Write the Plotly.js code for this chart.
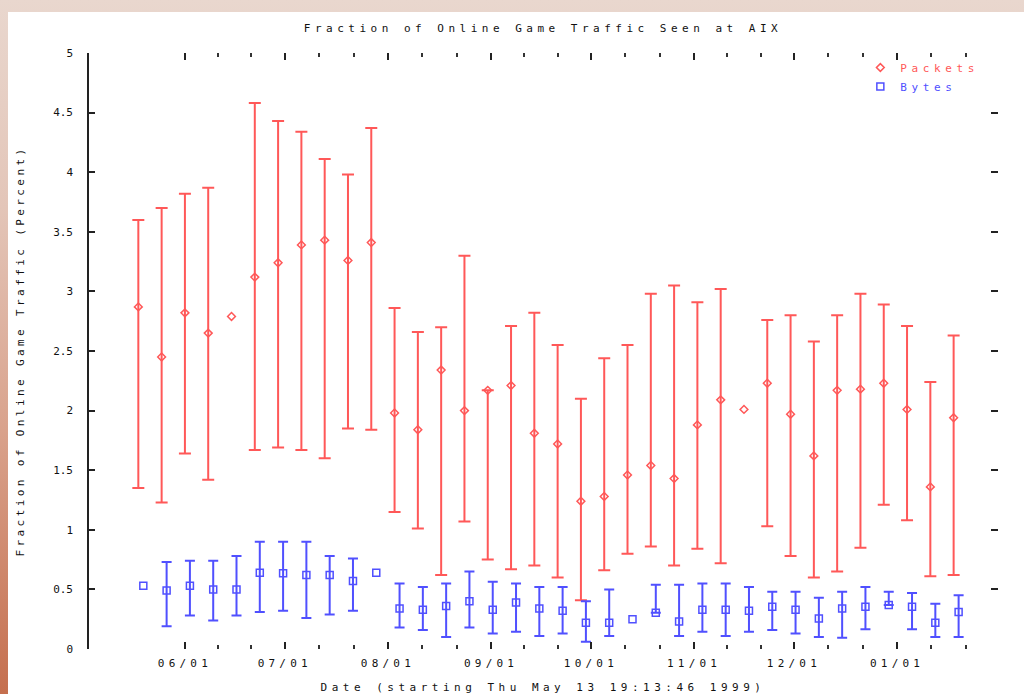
<!DOCTYPE html>
<html>
<head>
<meta charset="utf-8">
<script src="https://cdn.plot.ly/plotly-3.0.1.min.js"></script>
<style>
  html, body { margin: 0; padding: 0; width: 1024px; height: 694px; overflow: hidden; }
  body { background: linear-gradient(to bottom, #e9d7ce 0%, #e3c5b8 30%, #d9a28c 62%, #c56f4e 100%); }
  #chart { position: absolute; left: 8px; top: 12px; width: 1016px; height: 682px; background: #fff; }
  .gtitle { letter-spacing: 4.5px; }
  .xtick text { letter-spacing: 4.2px; }
  .xtitle { letter-spacing: 4.5px; }
  .ytitle { letter-spacing: 3.4px; }
  .legendtext { letter-spacing: 4.6px; }
</style>
</head>
<body>
<div id="chart"></div>
<script>
// Weekly samples of online game traffic at the exchange point
const packetWeeks = [
  '1999-05-18', '1999-05-25', '1999-06-01', '1999-06-08', '1999-06-15', '1999-06-22',
  '1999-06-29', '1999-07-06', '1999-07-13', '1999-07-20', '1999-07-27', '1999-08-03',
  '1999-08-10', '1999-08-17', '1999-08-24', '1999-08-31', '1999-09-07', '1999-09-14',
  '1999-09-21', '1999-09-28', '1999-10-05', '1999-10-12', '1999-10-19', '1999-10-26',
  '1999-11-02', '1999-11-09', '1999-11-16', '1999-11-23', '1999-11-30', '1999-12-07',
  '1999-12-14', '1999-12-21', '1999-12-28', '2000-01-04', '2000-01-11', '2000-01-18'
];
const byteWeeks = [
  '1999-05-19 12:00', '1999-05-26 12:00', '1999-06-02 12:00', '1999-06-09 12:00', '1999-06-16 12:00', '1999-06-23 12:00',
  '1999-06-30 12:00', '1999-07-07 12:00', '1999-07-14 12:00', '1999-07-21 12:00', '1999-07-28 12:00', '1999-08-04 12:00',
  '1999-08-11 12:00', '1999-08-18 12:00', '1999-08-25 12:00', '1999-09-01 12:00', '1999-09-08 12:00', '1999-09-15 12:00',
  '1999-09-22 12:00', '1999-09-29 12:00', '1999-10-06 12:00', '1999-10-13 12:00', '1999-10-20 12:00', '1999-10-27 12:00',
  '1999-11-03 12:00', '1999-11-10 12:00', '1999-11-17 12:00', '1999-11-24 12:00', '1999-12-01 12:00', '1999-12-08 12:00',
  '1999-12-15 12:00', '1999-12-22 12:00', '1999-12-29 12:00', '2000-01-05 12:00', '2000-01-12 12:00', '2000-01-19 12:00'
];

// Packets: weekly mean with low / high of the week (percent); null = not recorded
const packetsMean = [2.87, 2.45, 2.82, 2.65, 2.79, 3.12, 3.24, 3.39, 3.43, 3.26, 3.41, 1.98,
                     1.84, 2.34, 2.00, 2.17, 2.21, 1.81, 1.72, 1.24, 1.28, 1.46, 1.54, 1.43,
                     1.88, 2.09, 2.01, 2.23, 1.97, 1.62, 2.17, 2.18, 2.23, 2.01, 1.36, 1.94];
const packetsLow  = [1.35, 1.23, 1.64, 1.42, null, 1.67, 1.69, 1.67, 1.60, 1.85, 1.84, 1.15,
                     1.01, 0.62, 1.07, 0.75, 0.67, 0.70, 0.60, 0.41, 0.66, 0.80, 0.86, 0.70,
                     0.84, 0.72, null, 1.03, 0.78, 0.60, 0.65, 0.85, 1.21, 1.08, 0.61, 0.62];
const packetsHigh = [3.60, 3.70, 3.82, 3.87, null, 4.58, 4.43, 4.34, 4.11, 3.98, 4.37, 2.86,
                     2.66, 2.70, 3.30, null, 2.71, 2.82, 2.55, 2.10, 2.44, 2.55, 2.98, 3.05,
                     2.91, 3.02, null, 2.76, 2.80, 2.58, 2.80, 2.98, 2.89, 2.71, 2.24, 2.63];

// Bytes: weekly mean with low / high of the week (percent)
const bytesMean = [0.53, 0.49, 0.53, 0.50, 0.50, 0.64, 0.635, 0.62, 0.62, 0.57, 0.64, 0.34,
                   0.33, 0.36, 0.40, 0.33, 0.39, 0.34, 0.32, 0.22, 0.22, 0.25, 0.305, 0.23,
                   0.33, 0.33, 0.32, 0.355, 0.33, 0.255, 0.34, 0.355, 0.37, 0.355, 0.22, 0.31];
const bytesLow  = [null, 0.19, 0.28, 0.24, 0.28, 0.31, 0.32, 0.26, 0.29, 0.32, null, 0.18,
                   0.16, 0.10, 0.18, 0.13, 0.145, 0.11, 0.13, 0.06, 0.11, null, null, 0.11,
                   0.145, 0.11, 0.145, 0.16, 0.13, 0.10, 0.095, 0.165, null, 0.165, 0.10, 0.10];
const bytesHigh = [null, 0.73, 0.74, 0.74, 0.78, 0.90, 0.90, 0.90, 0.78, 0.76, null, 0.55,
                   0.52, 0.55, 0.65, 0.565, 0.55, 0.52, 0.52, 0.40, 0.50, null, 0.54, 0.54,
                   0.55, 0.55, 0.52, 0.48, 0.48, 0.43, 0.48, 0.52, 0.48, 0.47, 0.38, 0.45];

// Month tick marks along the date axis
const monthTicks  = ['1999-06-01', '1999-07-01', '1999-08-01', '1999-09-01', '1999-10-01',
                     '1999-11-01', '1999-12-01', '2000-01-01', '2000-02-01'];
const monthLabels = ['06/01', '07/01', '08/01', '09/01', '10/01', '11/01', '12/01', '01/01'];

// Distance from mean to high / low; NaN leaves a point without a bar
function spans(mean, low, high) {
  const plus = [], minus = [];
  mean.forEach((m, i) => {
    plus.push(high[i] == null ? NaN : high[i] - m);
    minus.push(low[i] == null ? NaN : m - low[i]);
  });
  return { plus, minus };
}
const pk = spans(packetsMean, packetsLow, packetsHigh);
const by = spans(bytesMean, bytesLow, bytesHigh);

// Two minor marks inside each month, none before the first labelled month
const minorTicks = [];
for (let i = 0; i < monthTicks.length - 1; i++) {
  const a = new Date(monthTicks[i] + 'T00:00:00Z').getTime();
  const b = new Date(monthTicks[i + 1] + 'T00:00:00Z').getTime();
  [1, 2].forEach(k => minorTicks.push(new Date(a + (b - a) * k / 3).toISOString().slice(0, 16).replace('T', ' ')));
}

const RED = '#ff5858';
const BLUE = '#5050ff';
const MONO = 'DejaVu Sans Mono';

const traces = [
  {
    type: 'scatter', mode: 'markers', name: '<span style="color:' + RED + '">Packets</span>',
    x: packetWeeks, y: packetsMean,
    marker: { symbol: 'diamond-open', size: 6, color: RED, line: { width: 1.5, color: RED } },
    error_y: { type: 'data', symmetric: false, array: pk.plus, arrayminus: pk.minus,
               color: RED, thickness: 2, width: 6 }
  },
  {
    type: 'scatter', mode: 'markers', name: '<span style="color:' + BLUE + '">Bytes</span>',
    x: byteWeeks, y: bytesMean,
    marker: { symbol: 'square-open', size: 7, color: BLUE, line: { width: 1.5, color: BLUE } },
    error_y: { type: 'data', symmetric: false, array: by.plus, arrayminus: by.minus,
               color: BLUE, thickness: 2, width: 5 }
  }
];

const layout = {
  width: 1016, height: 682,
  margin: { l: 80, r: 26, t: 41, b: 45 },
  paper_bgcolor: '#ffffff', plot_bgcolor: '#ffffff',
  font: { family: MONO, size: 11, color: '#111' },
  title: {
    text: 'Fraction of Online Game Traffic Seen at AIX',
    font: { family: MONO, size: 11, color: '#111' },
    xref: 'paper', x: 0.5, xanchor: 'center',
    yref: 'container', y: 1 - 16 / 682, yanchor: 'middle'
  },
  xaxis: {
    type: 'date',
    range: ['1999-05-02 21:00', '2000-01-31 08:00'],
    tickmode: 'array', tickvals: monthTicks.slice(0, monthLabels.length), ticktext: monthLabels,
    ticks: 'inside', ticklen: 7, tickwidth: 2, tickcolor: '#222',
    minor: { tickmode: 'array', tickvals: minorTicks, ticks: 'inside', ticklen: 4, tickwidth: 2, tickcolor: '#333', showgrid: false },
    mirror: 'ticks', showline: false, showgrid: false, zeroline: false,
    ticklabelstandoff: 6,
    tickfont: { family: MONO, size: 11, color: '#111' },
    title: { text: 'Date (starting Thu May 13 19:13:46 1999)', font: { family: MONO, size: 11, color: '#111' }, standoff: 14 },
    automargin: false
  },
  yaxis: {
    range: [0, 5], dtick: 0.5, tick0: 0,
    ticks: 'inside', ticklen: 7, tickwidth: 2, tickcolor: '#222',
    mirror: 'ticks', showline: false, showgrid: false, zeroline: false,
    ticklabelstandoff: 14,
    tickfont: { family: MONO, size: 11, color: '#111' },
    title: { text: 'Fraction of Online Game Traffic (Percent)', font: { family: MONO, size: 11, color: '#111' }, standoff: 26 },
    automargin: false
  },
  shapes: [
    { type: 'line', xref: 'paper', yref: 'paper', x0: 0, x1: 0, y0: 0, y1: 1, line: { color: '#222', width: 2 } }
  ],
  showlegend: true,
  legend: {
    x: 0.985, xanchor: 'right', y: 1.0, yanchor: 'top',
    bgcolor: 'rgba(0,0,0,0)', borderwidth: 0,
    font: { family: MONO, size: 11 }, tracegroupgap: 0, itemwidth: 30
  }
};

Plotly.newPlot('chart', traces, layout, { displayModeBar: false, staticPlot: true });
</script>
</body>
</html>
